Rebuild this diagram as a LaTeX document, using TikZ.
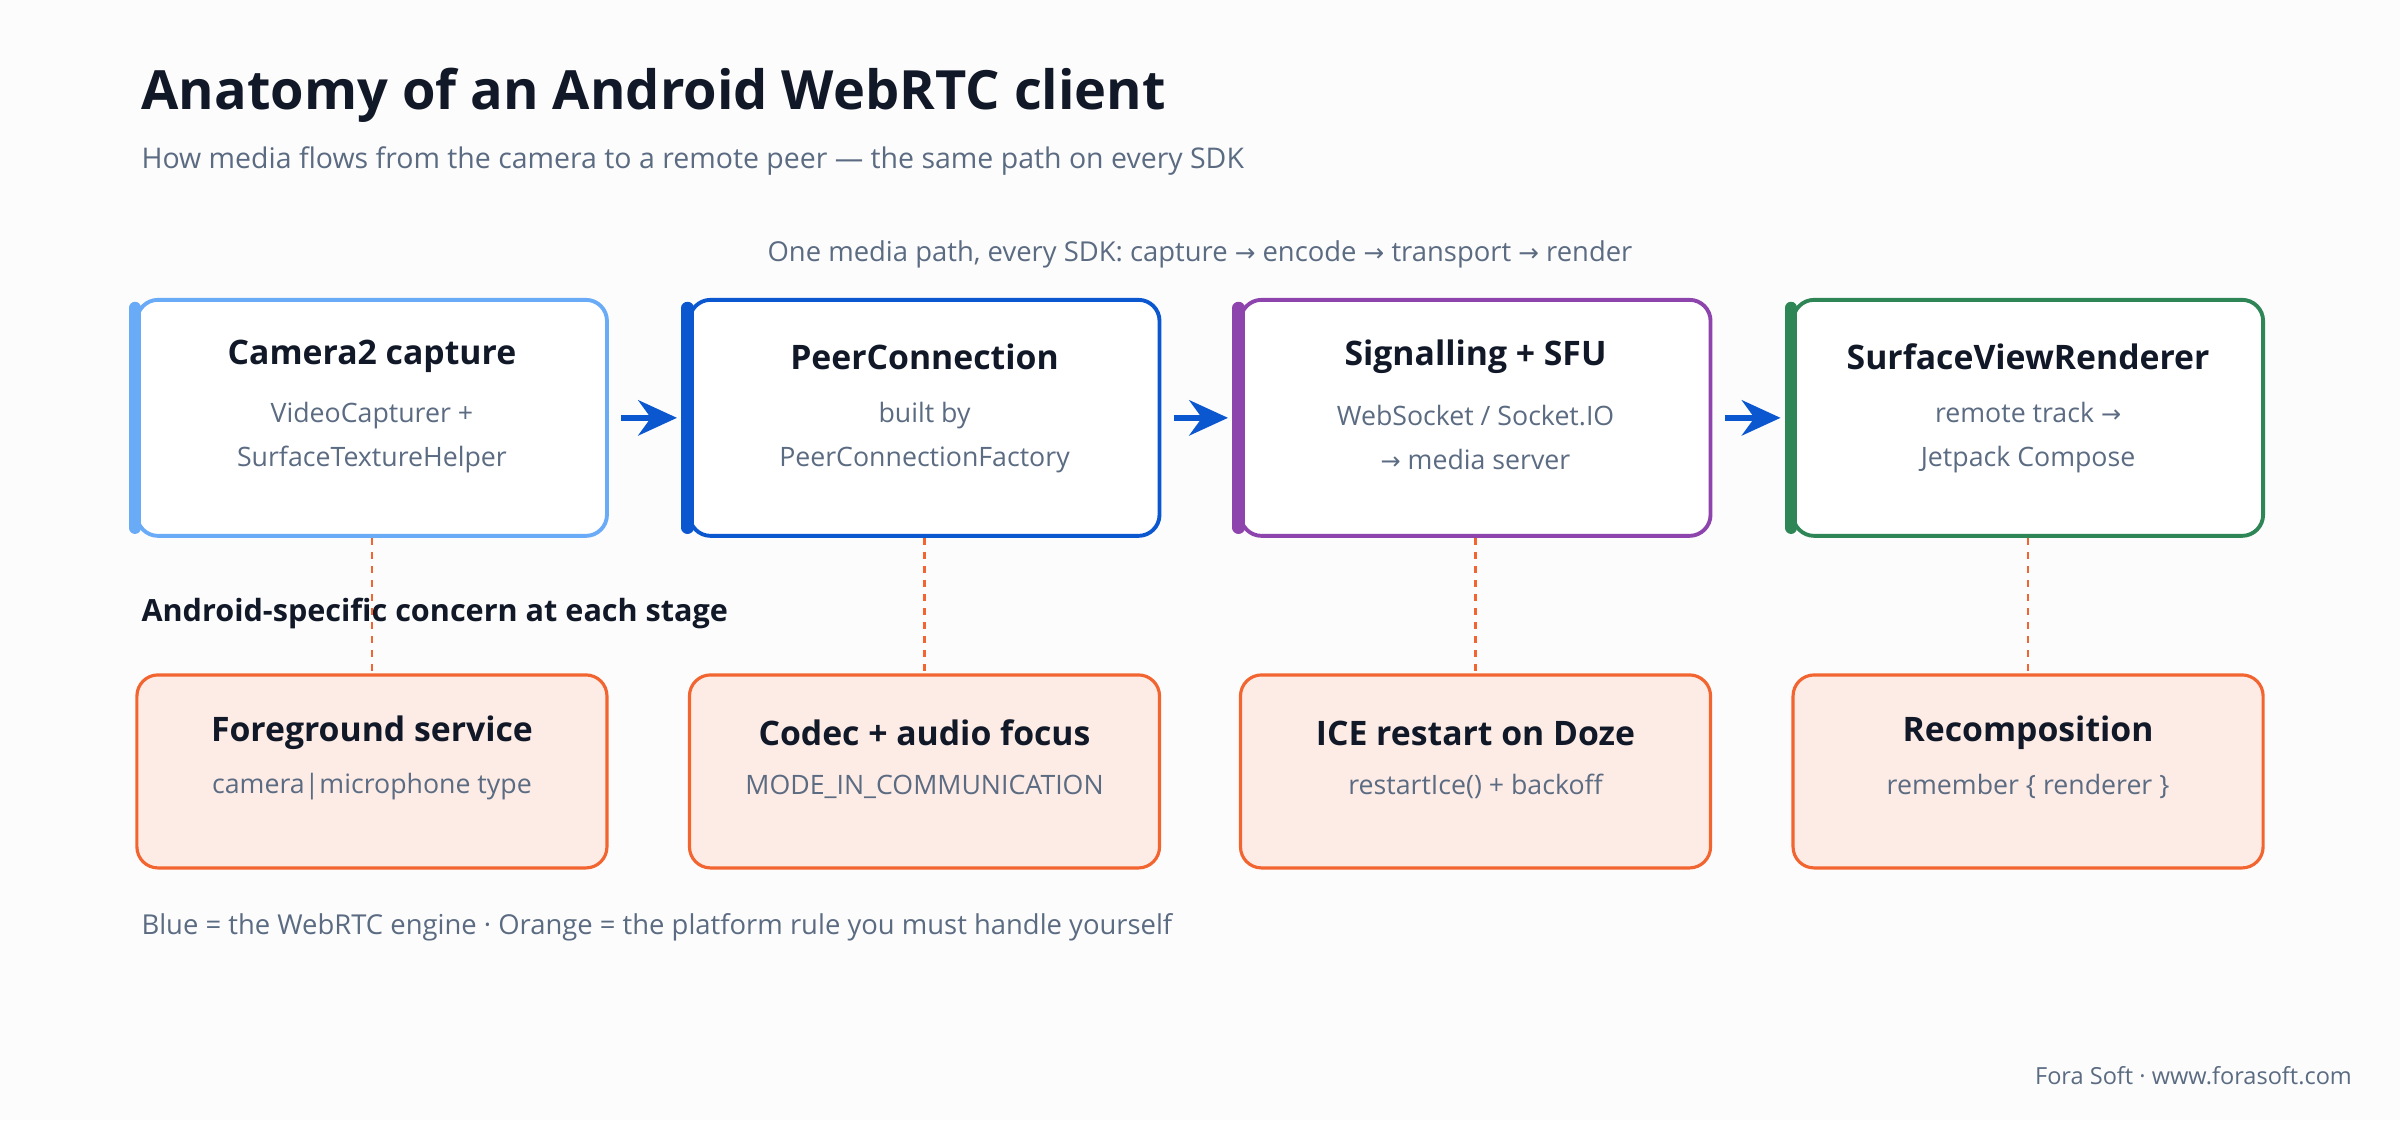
\documentclass[tikz,border=0pt]{standalone}
\usepackage{fontspec}
\setmainfont{Open Sans}
\newfontfamily\symfont{DejaVu Sans}
\newcommand{\toarrow}{{\symfont\fontsize{0.9em}{1em}\selectfont →}}
\usetikzlibrary{arrows.meta,positioning}
\tikzset{>=Stealth}
\definecolor{ink}{HTML}{111827}
\definecolor{muted}{HTML}{5B6B82}
\definecolor{camblue}{HTML}{6AABF7}
\definecolor{engblue}{HTML}{0B57D0}
\definecolor{sigpurple}{HTML}{8E44AD}
\definecolor{rendgreen}{HTML}{2E8555}
\definecolor{rule}{HTML}{F26430}
\definecolor{rulefill}{HTML}{FDECE6}
\tikzset{
  stage/.style={draw=#1,line width=1.1pt,rounded corners=6pt,fill=white,minimum width=4.7cm,minimum height=2.36cm},
  concern/.style={draw=rule,line width=0.9pt,rounded corners=6pt,fill=rulefill,minimum width=4.7cm,minimum height=1.93cm},
  head/.style={font=\fontsize{9.6}{12}\selectfont\bfseries,text=ink},
  body/.style={font=\fontsize{7.6}{12.6}\selectfont,text=muted,align=center}
}

\begin{document}
\begin{tikzpicture}[x=0.01531cm,y=-0.01531cm]
\useasboundingbox[fill=white!98!gray] (0,0) rectangle (1568,732);
\node[anchor=west,inner sep=0pt,font=\fontsize{15.4}{19}\selectfont\bfseries,text=ink] (title) at (92,62) {Anatomy of an Android WebRTC client};
\node[anchor=west,inner sep=0pt,font=\fontsize{8.1}{10}\selectfont,text=muted] (subtitle) at (92,105) {How media flows from the camera to a remote peer — the same path on every SDK};
\node[font=\fontsize{7.8}{10}\selectfont,text=muted] (path) at (784,166) {One media path, every SDK: capture \toarrow{} encode \toarrow{} transport \toarrow{} render};
% top row: stages of the media path
\foreach \n/\x/\c/\h/\a/\b in {
  s1/243/camblue/Camera2 capture/VideoCapturer +/SurfaceTextureHelper,
  s2/604/engblue/PeerConnection/built by/PeerConnectionFactory,
  s3/964/sigpurple/Signalling + SFU/{WebSocket / Socket.IO}/{\toarrow{} media server},
  s4/1325/rendgreen/SurfaceViewRenderer/{remote track \toarrow}/Jetpack Compose}{
  \node[stage=\c] (\n) at (\x,273) {};
  \draw[\c,line width=3.5pt,line cap=round] ([yshift=-0.1cm]\n.north west) -- ([yshift=0.1cm]\n.south west);
  \node[head] (\n h) at (\x,233) {\h};
  \node[body] (\n t) at (\x,286) {\a\\\b};
}
\node[anchor=west,inner sep=0pt,font=\fontsize{8.7}{11}\selectfont\bfseries,text=ink] (note) at (92,401) {Android-specific concern at each stage};
% bottom row: platform concerns
\foreach \n/\x/\h/\a in {
  c1/243/Foreground service/camera|microphone type,
  c2/604/Codec + audio focus/MODE\_IN\_COMMUNICATION,
  c3/964/ICE restart on Doze/restartIce() + backoff,
  c4/1325/Recomposition/remember \{ renderer \}}{
  \node[concern] (\n) at (\x,504) {};
  \node[head] (\n h) at (\x,479) {\h};
  \node[body] (\n t) at (\x,514) {\a};
}
\foreach \i in {1,...,4}
  \draw[rule,line width=0.7pt,dash pattern=on 2pt off 2pt] (s\i.south) -- (c\i.north);
\foreach \i/\j in {1/2,2/3,3/4}
  \draw[->,engblue,line width=1.8pt,shorten <=3.5pt,shorten >=3pt,>={Stealth[length=11pt,width=10pt]}] (s\i.east) -- (s\j.west);
\node[anchor=west,inner sep=0pt,font=\fontsize{7.8}{10}\selectfont,text=muted] (legend) at (92,606) {Blue = the WebRTC engine · Orange = the platform rule you must handle yourself};
\node[anchor=east,inner sep=0pt,font=\fontsize{6.7}{8}\selectfont,text=muted] (credit) at (1537,703) {Fora Soft · www.forasoft.com};
\end{tikzpicture}
\end{document}
